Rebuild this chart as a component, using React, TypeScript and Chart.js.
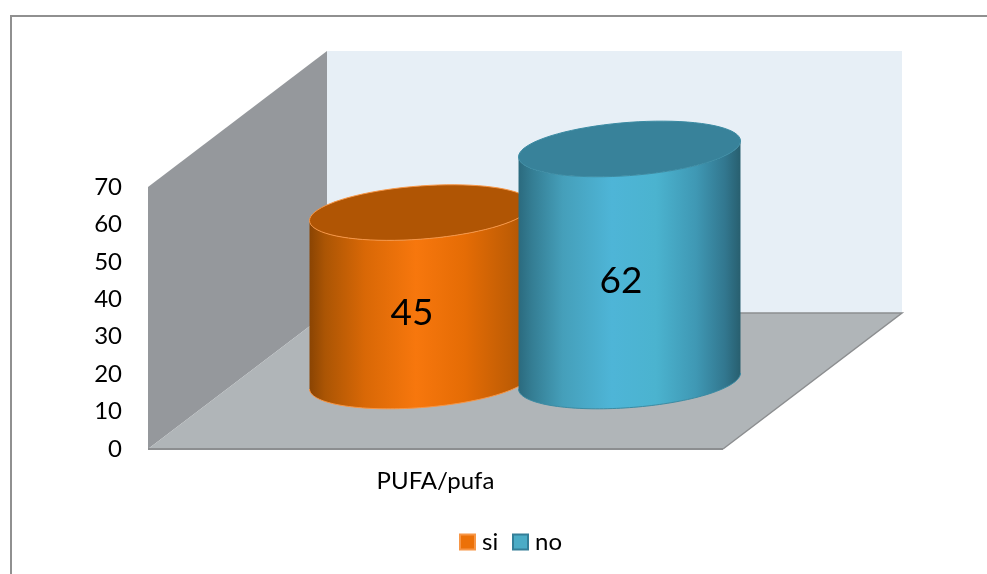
import React, { useEffect, useRef } from "react";
import { Chart, registerables } from "chart.js";

Chart.register(...registerables);

const categories = ["PUFA/pufa"];
const seriesNames = ["si", "no"];
const siValues = [45];
const noValues = [62];
const yMax = 70;
const yStep = 10;

const FONT = "Lato, Carlito, sans-serif";
const DEPTH_X = 179;
const DEPTH_Y = -136;
const TILT = 0.072;

type Look = {
  top: string;
  rim: string;
  swatch: string;
  swatchEdge: string;
  stops: [number, string][];
};

const looks: Look[] = [
  {
    top: "#b05504",
    rim: "#f79646",
    swatch: "#ec7108",
    swatchEdge: "#f79646",
    stops: [
      [0, "#8a4403"],
      [0.07, "#ab5504"],
      [0.25, "#d96806"],
      [0.48, "#f7770d"],
      [0.7, "#e56c05"],
      [0.9, "#c05d05"],
      [1, "#a85204"],
    ],
  },
  {
    top: "#38829a",
    rim: "#3b8ba3",
    swatch: "#4bacc6",
    swatchEdge: "#347f98",
    stops: [
      [0, "#2b6a7e"],
      [0.06, "#347d93"],
      [0.2, "#459fba"],
      [0.42, "#4eb5d7"],
      [0.62, "#4bb3cf"],
      [0.8, "#3f98b4"],
      [0.93, "#32778f"],
      [1, "#285f6f"],
    ],
  },
];

// Traces part of a tilted ellipse, the projection of a cylinder's round face.
function traceEllipse(
  ctx: CanvasRenderingContext2D,
  cx: number,
  cy: number,
  a: number,
  from: number,
  to: number,
  start: boolean
) {
  const tilt = a * TILT;
  const b = a * 0.24;
  const steps = 80;
  for (let i = 0; i <= steps; i++) {
    const t = from + ((to - from) * i) / steps;
    const x = cx + a * Math.cos(t);
    const y = cy - tilt * Math.cos(t) + b * Math.sin(t);
    if (i === 0 && start) ctx.moveTo(x, y);
    else ctx.lineTo(x, y);
  }
}

const scene3d = {
  id: "scene3d",
  beforeDraw(chart: Chart) {
    const { ctx, width, height } = chart;
    ctx.save();
    ctx.fillStyle = "#ffffff";
    ctx.fillRect(0, 0, width, height);
    ctx.strokeStyle = "#909090";
    ctx.lineWidth = 2;
    ctx.beginPath();
    ctx.moveTo(11, height);
    ctx.lineTo(11, 16);
    ctx.lineTo(width, 16);
    ctx.stroke();
    ctx.restore();
  },
  beforeDatasetsDraw(chart: Chart) {
    const { ctx, chartArea: c } = chart;
    const { left: l, right: r, top: t, bottom: b } = c;
    const poly = (pts: number[][], fill: string) => {
      ctx.beginPath();
      pts.forEach(([x, y], i) => (i ? ctx.lineTo(x, y) : ctx.moveTo(x, y)));
      ctx.closePath();
      ctx.fillStyle = fill;
      ctx.fill();
    };
    ctx.save();
    // back wall, side wall, floor
    poly(
      [
        [l + DEPTH_X, t + DEPTH_Y],
        [r + DEPTH_X, t + DEPTH_Y],
        [r + DEPTH_X, b + DEPTH_Y],
        [l + DEPTH_X, b + DEPTH_Y],
      ],
      "#e7eff6"
    );
    poly(
      [
        [l, t],
        [l + DEPTH_X, t + DEPTH_Y],
        [l + DEPTH_X, b + DEPTH_Y],
        [l, b],
      ],
      "#95989c"
    );
    poly(
      [
        [l, b],
        [l + DEPTH_X, b + DEPTH_Y],
        [r + DEPTH_X, b + DEPTH_Y],
        [r, b],
      ],
      "#b0b5b8"
    );
    // floor edges
    ctx.strokeStyle = "#8c8e90";
    ctx.lineWidth = 1.5;
    ctx.beginPath();
    ctx.moveTo(l + DEPTH_X, b + DEPTH_Y);
    ctx.lineTo(r + DEPTH_X, b + DEPTH_Y);
    ctx.lineTo(r, b);
    ctx.stroke();
    ctx.lineWidth = 2;
    ctx.beginPath();
    ctx.moveTo(r, b);
    ctx.lineTo(l, b);
    ctx.stroke();
    ctx.restore();
  },
  afterDatasetsDraw(chart: Chart) {
    const { ctx } = chart;
    ctx.save();
    chart.data.datasets.forEach((ds, i) => {
      const bar = chart.getDatasetMeta(i).data[0] as any;
      const look = looks[i];
      const a = bar.width * 0.531;
      const cx = bar.x + DEPTH_X / 2;
      const topY = bar.y + DEPTH_Y / 2;
      const botY = bar.base + DEPTH_Y / 2;
      const tilt = a * TILT;

      const grad = ctx.createLinearGradient(cx - a, 0, cx + a, 0);
      look.stops.forEach(([p, col]) => grad.addColorStop(p, col));
      ctx.beginPath();
      ctx.moveTo(cx - a, topY + tilt);
      ctx.lineTo(cx - a, botY + tilt);
      traceEllipse(ctx, cx, botY, a, Math.PI, 0, false);
      ctx.lineTo(cx + a, topY - tilt);
      traceEllipse(ctx, cx, topY, a, 0, Math.PI, false);
      ctx.closePath();
      ctx.fillStyle = grad;
      ctx.fill();
      ctx.strokeStyle = look.rim;
      ctx.lineWidth = 1;
      ctx.beginPath();
      traceEllipse(ctx, cx, botY, a, Math.PI, 0, true);
      ctx.stroke();

      ctx.beginPath();
      traceEllipse(ctx, cx, topY, a, 0, Math.PI * 2, true);
      ctx.closePath();
      ctx.fillStyle = look.top;
      ctx.fill();
      ctx.stroke();
    });

    // value labels sit on the cylinder's front face
    chart.data.datasets.forEach((ds, i) => {
      const bar = chart.getDatasetMeta(i).data[0] as any;
      ctx.fillStyle = "#000000";
      ctx.font = `37px ${FONT}`;
      ctx.textAlign = "center";
      ctx.textBaseline = "middle";
      ctx.fillText(String(ds.data[0]), bar.x + 81, (bar.y + bar.base) / 2 - 52);
    });

    // legend row
    const rowY = 542;
    const boxes = [460, 513];
    ctx.font = `24px ${FONT}`;
    ctx.textBaseline = "middle";
    ctx.textAlign = "left";
    chart.data.datasets.forEach((ds, i) => {
      const x = boxes[i];
      ctx.fillStyle = looks[i].swatch;
      ctx.strokeStyle = looks[i].swatchEdge;
      ctx.lineWidth = 2;
      ctx.fillRect(x, rowY - 7.5, 15, 15);
      ctx.strokeRect(x, rowY - 7.5, 15, 15);
      ctx.fillStyle = "#000000";
      ctx.fillText(String(ds.label), x + 22, rowY);
    });
    ctx.restore();
  },
};

export default function App() {
  const ref = useRef<HTMLCanvasElement>(null);
  useEffect(() => {
    const chart = new Chart(ref.current!, {
      type: "bar",
      data: {
        labels: categories,
        datasets: [
          {
            label: seriesNames[0],
            data: siValues,
            backgroundColor: "transparent",
            categoryPercentage: 0.727,
            barPercentage: 1,
          },
          {
            label: seriesNames[1],
            data: noValues,
            backgroundColor: "transparent",
            categoryPercentage: 0.727,
            barPercentage: 1,
          },
        ],
      },
      options: {
        responsive: false,
        animation: false,
        layout: { padding: { left: 0, right: 264, top: 187, bottom: 0 } },
        plugins: {
          legend: { display: false },
          tooltip: { enabled: false },
          title: { display: false },
        },
        scales: {
          x: {
            grid: { display: false, drawTicks: false },
            border: { display: false },
            afterFit: (s: any) => {
              s.height = 125;
            },
            ticks: {
              padding: 18,
              color: "#000000",
              maxRotation: 0,
              font: { family: FONT, size: 24 },
            },
          },
          y: {
            min: 0,
            max: yMax,
            grid: { display: false, drawTicks: false },
            border: { display: false },
            afterFit: (s: any) => {
              s.width = 148;
            },
            ticks: {
              stepSize: yStep,
              padding: 26,
              color: "#000000",
              font: { family: FONT, size: 24 },
            },
          },
        },
      },
      plugins: [scene3d],
    });
    return () => chart.destroy();
  }, []);
  return (
    <div style={{ position: "absolute", left: 0, top: 0, width: 987, height: 574 }}>
      <canvas ref={ref} width={987} height={574} style={{ display: "block" }} />
    </div>
  );
}
